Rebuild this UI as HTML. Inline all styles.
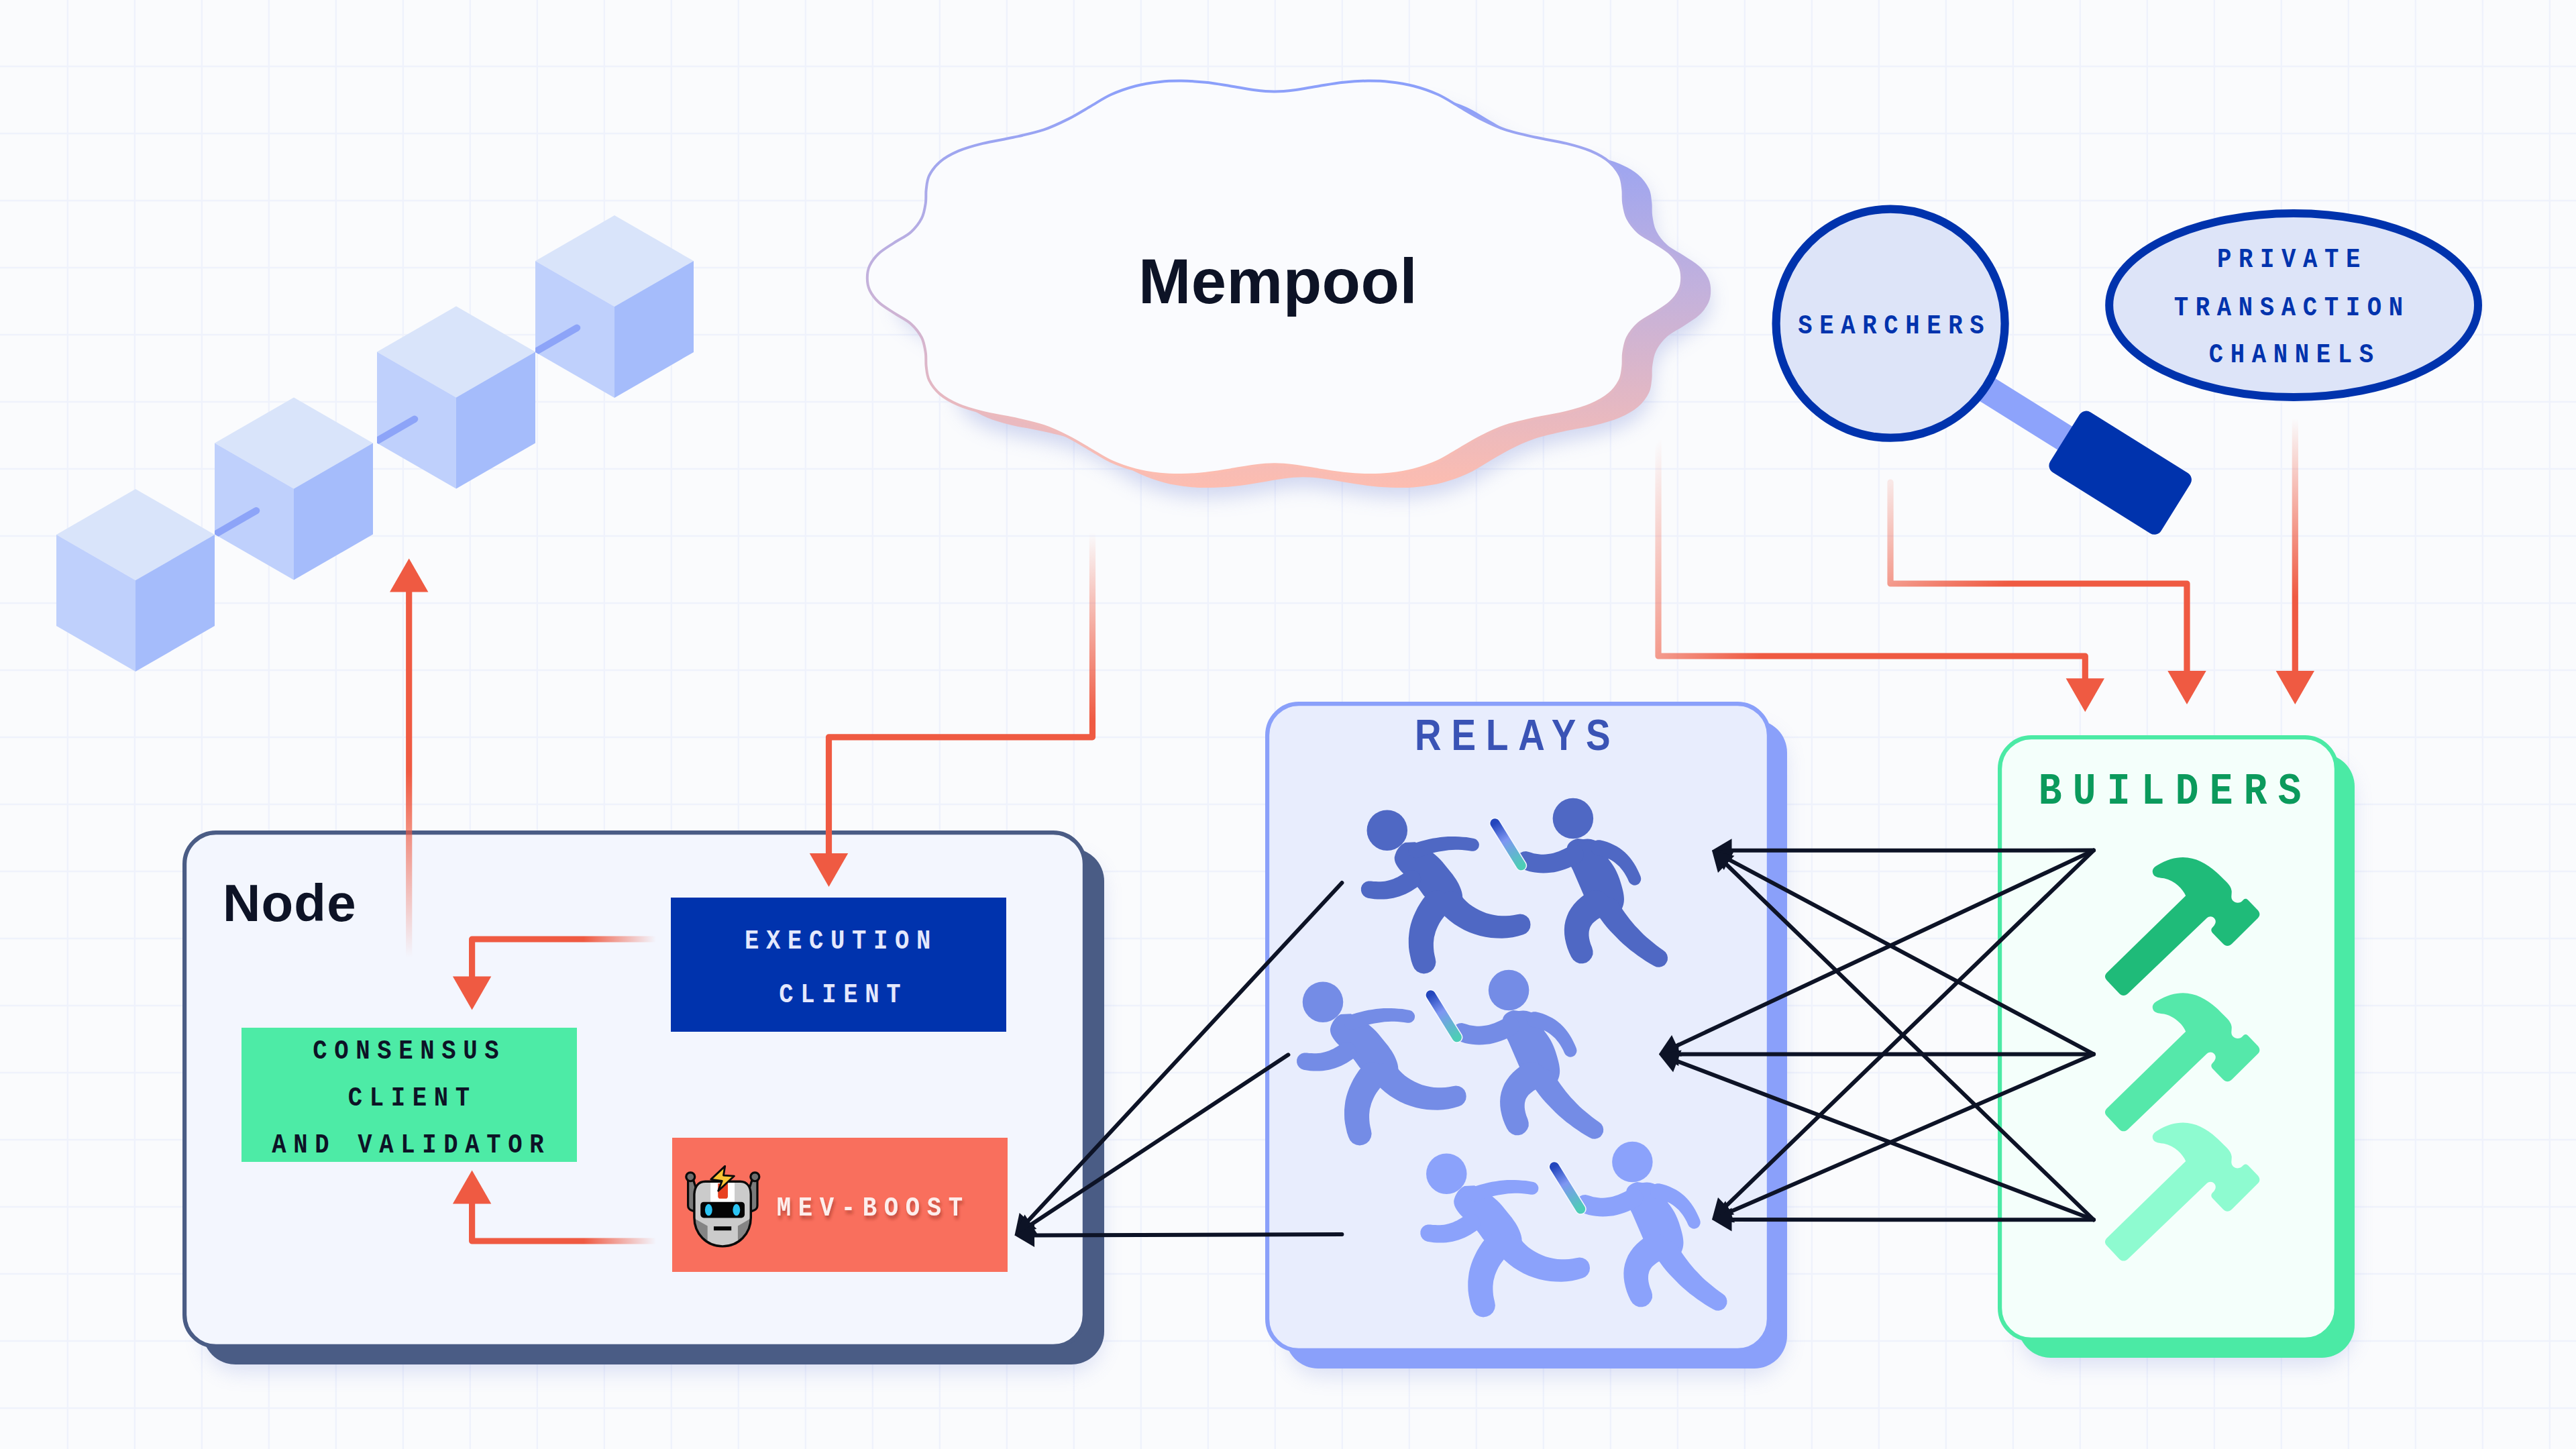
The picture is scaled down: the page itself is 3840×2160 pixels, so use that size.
<!DOCTYPE html>
<html lang="en"><head><meta charset="utf-8"><title>MEV-Boost architecture</title>
<style>
html,body{margin:0;padding:0;background:#fafbfd;width:3840px;height:2160px;overflow:hidden}
svg{display:block}
.mono{font-family:"Liberation Mono","DejaVu Sans Mono",monospace;font-weight:bold}
.sans{font-family:"Liberation Sans","DejaVu Sans",sans-serif;font-weight:bold}
</style></head><body>
<svg width="3840" height="2160" viewBox="0 0 3840 2160">
<defs>
<filter id="sh" x="-10%" y="-10%" width="125%" height="125%"><feGaussianBlur stdDeviation="16"/></filter>
<filter id="shc" x="-10%" y="-15%" width="125%" height="135%"><feGaussianBlur stdDeviation="14"/></filter>
<filter id="tsh" x="-5%" y="-30%" width="110%" height="180%"><feDropShadow dx="2.3" dy="5" stdDeviation="2.5" flood-color="#7a2418" flood-opacity="0.45"/></filter>
<linearGradient id="cg" x1="0" y1="0" x2="0" y2="1"><stop offset="0" stop-color="#8a9ffb"/><stop offset="0.5" stop-color="#c3b1dc"/><stop offset="1" stop-color="#fdbdb0"/></linearGradient>
</defs>
<rect width="3840" height="2160" fill="#fafbfd"/>
<path d="M100.8 0V2160M200.8 0V2160M300.8 0V2160M400.8 0V2160M500.8 0V2160M600.8 0V2160M700.8 0V2160M800.8 0V2160M900.8 0V2160M1000.8 0V2160M1100.8 0V2160M1200.8 0V2160M1300.8 0V2160M1400.8 0V2160M1500.8 0V2160M1600.8 0V2160M1700.8 0V2160M1800.8 0V2160M1900.8 0V2160M2000.8 0V2160M2100.8 0V2160M2200.8 0V2160M2300.8 0V2160M2400.8 0V2160M2500.8 0V2160M2600.8 0V2160M2700.8 0V2160M2800.8 0V2160M2900.8 0V2160M3000.8 0V2160M3100.8 0V2160M3200.8 0V2160M3300.8 0V2160M3400.8 0V2160M3500.8 0V2160M3600.8 0V2160M3700.8 0V2160M3800.8 0V2160M0 99H3840M0 199H3840M0 299H3840M0 399H3840M0 499H3840M0 599H3840M0 699H3840M0 799H3840M0 899H3840M0 999H3840M0 1099H3840M0 1199H3840M0 1299H3840M0 1399H3840M0 1499H3840M0 1599H3840M0 1699H3840M0 1799H3840M0 1899H3840M0 1999H3840M0 2099H3840" stroke="#eff2fc" stroke-width="2.4" fill="none"/>
<g id="chain">
<polygon points="202.0,729.0 320.0,797.0 202.0,865.0 84.0,797.0" fill="#d9e4fa"/><polygon points="84.0,797.0 202.0,865.0 202.0,1001.0 84.0,933.0" fill="#bfd0fc"/><polygon points="202.0,865.0 320.0,797.0 320.0,933.0 202.0,1001.0" fill="#a5bcfb"/><clipPath id="cf0"><polygon points="84.0,797.0 202.0,865.0 202.0,1001.0 84.0,933.0"/></clipPath>
<polygon points="438.0,592.5 556.0,660.5 438.0,728.5 320.0,660.5" fill="#d9e4fa"/><polygon points="320.0,660.5 438.0,728.5 438.0,864.5 320.0,796.5" fill="#bfd0fc"/><polygon points="438.0,728.5 556.0,660.5 556.0,796.5 438.0,864.5" fill="#a5bcfb"/><clipPath id="cf1"><polygon points="320.0,660.5 438.0,728.5 438.0,864.5 320.0,796.5"/></clipPath>
<polygon points="680.0,456.5 798.0,524.5 680.0,592.5 562.0,524.5" fill="#d9e4fa"/><polygon points="562.0,524.5 680.0,592.5 680.0,728.5 562.0,660.5" fill="#bfd0fc"/><polygon points="680.0,592.5 798.0,524.5 798.0,660.5 680.0,728.5" fill="#a5bcfb"/><clipPath id="cf2"><polygon points="562.0,524.5 680.0,592.5 680.0,728.5 562.0,660.5"/></clipPath>
<polygon points="916.0,321.0 1034.0,389.0 916.0,457.0 798.0,389.0" fill="#d9e4fa"/><polygon points="798.0,389.0 916.0,457.0 916.0,593.0 798.0,525.0" fill="#bfd0fc"/><polygon points="916.0,457.0 1034.0,389.0 1034.0,525.0 916.0,593.0" fill="#a5bcfb"/><clipPath id="cf3"><polygon points="798.0,389.0 916.0,457.0 916.0,593.0 798.0,525.0"/></clipPath>
<line clip-path="url(#cf1)" x1="314.0" y1="800.5" x2="382.0" y2="761.2" stroke="#8da4f8" stroke-width="10.5" stroke-linecap="round"/>
<line clip-path="url(#cf2)" x1="550.0" y1="664.0" x2="618.0" y2="624.7" stroke="#8da4f8" stroke-width="10.5" stroke-linecap="round"/>
<line clip-path="url(#cf3)" x1="792.0" y1="528.0" x2="860.0" y2="488.7" stroke="#8da4f8" stroke-width="10.5" stroke-linecap="round"/>
</g>
<g id="mempool">
<path d="M1292.8 414.3C1292.8 408.2 1293.5 402.1 1296.4 396.0C1299.3 389.9 1304.0 383.5 1310.1 377.8C1316.2 372.1 1324.9 367.2 1332.9 361.9C1340.9 356.6 1351.1 352.0 1357.9 345.9C1364.7 339.8 1370.2 332.6 1373.9 325.4C1377.6 318.2 1378.7 309.9 1379.8 302.7C1380.9 295.5 1379.8 289.0 1380.7 282.2C1381.6 275.4 1381.8 268.5 1385.2 261.7C1388.6 254.9 1394.0 247.3 1401.2 241.2C1408.4 235.1 1417.9 229.8 1428.5 225.2C1439.1 220.7 1451.2 217.3 1464.9 213.9C1478.6 210.5 1495.3 208.2 1510.5 204.8C1525.7 201.4 1542.3 198.0 1556.0 193.4C1569.7 188.8 1581.1 183.1 1592.5 177.4C1603.9 171.7 1613.8 165.3 1624.4 159.2C1635.0 153.1 1644.8 146.2 1656.2 141.0C1667.6 135.8 1680.6 131.4 1692.7 128.2C1704.8 125.0 1717.7 123.2 1729.1 121.9C1740.5 120.6 1749.6 120.4 1761.0 120.5C1772.4 120.6 1785.2 121.5 1797.4 122.8C1809.6 124.1 1821.8 126.3 1833.9 128.2C1846.1 130.1 1859.3 132.8 1870.3 134.2C1881.3 135.6 1890.1 136.4 1900.0 136.4C1909.9 136.4 1918.7 135.6 1929.7 134.2C1940.7 132.8 1953.9 130.1 1966.1 128.2C1978.2 126.3 1990.4 124.1 2002.6 122.8C2014.8 121.5 2027.6 120.6 2039.0 120.5C2050.4 120.4 2059.5 120.6 2070.9 121.9C2082.3 123.2 2095.2 125.0 2107.3 128.2C2119.5 131.4 2132.4 135.8 2143.8 141.0C2155.2 146.2 2165.0 153.1 2175.6 159.2C2186.2 165.3 2196.1 171.7 2207.5 177.4C2218.9 183.1 2230.3 188.8 2244.0 193.4C2257.7 198.0 2274.3 201.4 2289.5 204.8C2304.7 208.2 2321.4 210.5 2335.1 213.9C2348.8 217.3 2360.9 220.7 2371.5 225.2C2382.1 229.8 2391.6 235.1 2398.8 241.2C2406.0 247.3 2411.4 254.9 2414.8 261.7C2418.2 268.5 2418.4 275.4 2419.3 282.2C2420.2 289.0 2419.1 295.5 2420.2 302.7C2421.3 309.9 2422.4 318.2 2426.1 325.4C2429.8 332.6 2435.3 339.8 2442.1 345.9C2448.9 352.0 2459.1 356.6 2467.1 361.9C2475.1 367.2 2483.8 372.1 2489.9 377.8C2496.0 383.5 2500.7 389.9 2503.6 396.0C2506.5 402.1 2507.2 408.2 2507.2 414.3C2507.2 420.4 2506.5 426.5 2503.6 432.6C2500.7 438.7 2496.0 445.1 2489.9 450.8C2483.8 456.5 2475.1 461.4 2467.1 466.7C2459.1 472.0 2448.9 476.6 2442.1 482.7C2435.3 488.8 2429.8 496.0 2426.1 503.2C2422.4 510.4 2421.3 518.7 2420.2 525.9C2419.1 533.1 2420.2 539.6 2419.3 546.4C2418.4 553.2 2418.2 560.1 2414.8 566.9C2411.4 573.7 2406.0 581.3 2398.8 587.4C2391.6 593.5 2382.1 598.8 2371.5 603.4C2360.9 608.0 2348.8 611.3 2335.1 614.7C2321.4 618.1 2304.7 620.4 2289.5 623.8C2274.3 627.2 2257.7 630.6 2244.0 635.2C2230.3 639.8 2218.9 645.5 2207.5 651.2C2196.1 656.9 2186.2 663.3 2175.6 669.4C2165.0 675.5 2155.2 682.4 2143.8 687.6C2132.4 692.8 2119.5 697.2 2107.3 700.4C2095.2 703.6 2082.3 705.4 2070.9 706.7C2059.5 708.0 2050.4 708.2 2039.0 708.1C2027.6 708.0 2014.8 707.1 2002.6 705.8C1990.4 704.5 1978.2 702.3 1966.1 700.4C1953.9 698.5 1940.7 695.8 1929.7 694.4C1918.7 693.0 1909.9 692.2 1900.0 692.2C1890.1 692.2 1881.3 693.0 1870.3 694.4C1859.3 695.8 1846.1 698.5 1833.9 700.4C1821.8 702.3 1809.6 704.5 1797.4 705.8C1785.2 707.1 1772.4 708.0 1761.0 708.1C1749.6 708.2 1740.5 708.0 1729.1 706.7C1717.7 705.4 1704.8 703.6 1692.7 700.4C1680.6 697.2 1667.6 692.8 1656.2 687.6C1644.8 682.4 1635.0 675.5 1624.4 669.4C1613.8 663.3 1603.9 656.9 1592.5 651.2C1581.1 645.5 1569.7 639.8 1556.0 635.2C1542.3 630.6 1525.7 627.2 1510.5 623.8C1495.3 620.4 1478.6 618.1 1464.9 614.7C1451.2 611.3 1439.1 608.0 1428.5 603.4C1417.9 598.8 1408.4 593.5 1401.2 587.4C1394.0 581.3 1388.6 573.7 1385.2 566.9C1381.8 560.1 1381.6 553.2 1380.7 546.4C1379.8 539.6 1380.9 533.1 1379.8 525.9C1378.7 518.7 1377.6 510.4 1373.9 503.2C1370.2 496.0 1364.7 488.8 1357.9 482.7C1351.1 476.6 1340.9 472.0 1332.9 466.7C1324.9 461.4 1316.2 456.5 1310.1 450.8C1304.0 445.1 1299.3 438.7 1296.4 432.6C1293.5 426.5 1292.8 420.4 1292.8 414.3Z" transform="translate(43,34)" fill="#7f90d8" opacity="0.33" filter="url(#shc)"/>
<path d="M1292.8 414.3C1292.8 408.2 1293.5 402.1 1296.4 396.0C1299.3 389.9 1304.0 383.5 1310.1 377.8C1316.2 372.1 1324.9 367.2 1332.9 361.9C1340.9 356.6 1351.1 352.0 1357.9 345.9C1364.7 339.8 1370.2 332.6 1373.9 325.4C1377.6 318.2 1378.7 309.9 1379.8 302.7C1380.9 295.5 1379.8 289.0 1380.7 282.2C1381.6 275.4 1381.8 268.5 1385.2 261.7C1388.6 254.9 1394.0 247.3 1401.2 241.2C1408.4 235.1 1417.9 229.8 1428.5 225.2C1439.1 220.7 1451.2 217.3 1464.9 213.9C1478.6 210.5 1495.3 208.2 1510.5 204.8C1525.7 201.4 1542.3 198.0 1556.0 193.4C1569.7 188.8 1581.1 183.1 1592.5 177.4C1603.9 171.7 1613.8 165.3 1624.4 159.2C1635.0 153.1 1644.8 146.2 1656.2 141.0C1667.6 135.8 1680.6 131.4 1692.7 128.2C1704.8 125.0 1717.7 123.2 1729.1 121.9C1740.5 120.6 1749.6 120.4 1761.0 120.5C1772.4 120.6 1785.2 121.5 1797.4 122.8C1809.6 124.1 1821.8 126.3 1833.9 128.2C1846.1 130.1 1859.3 132.8 1870.3 134.2C1881.3 135.6 1890.1 136.4 1900.0 136.4C1909.9 136.4 1918.7 135.6 1929.7 134.2C1940.7 132.8 1953.9 130.1 1966.1 128.2C1978.2 126.3 1990.4 124.1 2002.6 122.8C2014.8 121.5 2027.6 120.6 2039.0 120.5C2050.4 120.4 2059.5 120.6 2070.9 121.9C2082.3 123.2 2095.2 125.0 2107.3 128.2C2119.5 131.4 2132.4 135.8 2143.8 141.0C2155.2 146.2 2165.0 153.1 2175.6 159.2C2186.2 165.3 2196.1 171.7 2207.5 177.4C2218.9 183.1 2230.3 188.8 2244.0 193.4C2257.7 198.0 2274.3 201.4 2289.5 204.8C2304.7 208.2 2321.4 210.5 2335.1 213.9C2348.8 217.3 2360.9 220.7 2371.5 225.2C2382.1 229.8 2391.6 235.1 2398.8 241.2C2406.0 247.3 2411.4 254.9 2414.8 261.7C2418.2 268.5 2418.4 275.4 2419.3 282.2C2420.2 289.0 2419.1 295.5 2420.2 302.7C2421.3 309.9 2422.4 318.2 2426.1 325.4C2429.8 332.6 2435.3 339.8 2442.1 345.9C2448.9 352.0 2459.1 356.6 2467.1 361.9C2475.1 367.2 2483.8 372.1 2489.9 377.8C2496.0 383.5 2500.7 389.9 2503.6 396.0C2506.5 402.1 2507.2 408.2 2507.2 414.3C2507.2 420.4 2506.5 426.5 2503.6 432.6C2500.7 438.7 2496.0 445.1 2489.9 450.8C2483.8 456.5 2475.1 461.4 2467.1 466.7C2459.1 472.0 2448.9 476.6 2442.1 482.7C2435.3 488.8 2429.8 496.0 2426.1 503.2C2422.4 510.4 2421.3 518.7 2420.2 525.9C2419.1 533.1 2420.2 539.6 2419.3 546.4C2418.4 553.2 2418.2 560.1 2414.8 566.9C2411.4 573.7 2406.0 581.3 2398.8 587.4C2391.6 593.5 2382.1 598.8 2371.5 603.4C2360.9 608.0 2348.8 611.3 2335.1 614.7C2321.4 618.1 2304.7 620.4 2289.5 623.8C2274.3 627.2 2257.7 630.6 2244.0 635.2C2230.3 639.8 2218.9 645.5 2207.5 651.2C2196.1 656.9 2186.2 663.3 2175.6 669.4C2165.0 675.5 2155.2 682.4 2143.8 687.6C2132.4 692.8 2119.5 697.2 2107.3 700.4C2095.2 703.6 2082.3 705.4 2070.9 706.7C2059.5 708.0 2050.4 708.2 2039.0 708.1C2027.6 708.0 2014.8 707.1 2002.6 705.8C1990.4 704.5 1978.2 702.3 1966.1 700.4C1953.9 698.5 1940.7 695.8 1929.7 694.4C1918.7 693.0 1909.9 692.2 1900.0 692.2C1890.1 692.2 1881.3 693.0 1870.3 694.4C1859.3 695.8 1846.1 698.5 1833.9 700.4C1821.8 702.3 1809.6 704.5 1797.4 705.8C1785.2 707.1 1772.4 708.0 1761.0 708.1C1749.6 708.2 1740.5 708.0 1729.1 706.7C1717.7 705.4 1704.8 703.6 1692.7 700.4C1680.6 697.2 1667.6 692.8 1656.2 687.6C1644.8 682.4 1635.0 675.5 1624.4 669.4C1613.8 663.3 1603.9 656.9 1592.5 651.2C1581.1 645.5 1569.7 639.8 1556.0 635.2C1542.3 630.6 1525.7 627.2 1510.5 623.8C1495.3 620.4 1478.6 618.1 1464.9 614.7C1451.2 611.3 1439.1 608.0 1428.5 603.4C1417.9 598.8 1408.4 593.5 1401.2 587.4C1394.0 581.3 1388.6 573.7 1385.2 566.9C1381.8 560.1 1381.6 553.2 1380.7 546.4C1379.8 539.6 1380.9 533.1 1379.8 525.9C1378.7 518.7 1377.6 510.4 1373.9 503.2C1370.2 496.0 1364.7 488.8 1357.9 482.7C1351.1 476.6 1340.9 472.0 1332.9 466.7C1324.9 461.4 1316.2 456.5 1310.1 450.8C1304.0 445.1 1299.3 438.7 1296.4 432.6C1293.5 426.5 1292.8 420.4 1292.8 414.3Z" transform="translate(43,19)" fill="url(#cg)"/>
<path d="M1292.8 414.3C1292.8 408.2 1293.5 402.1 1296.4 396.0C1299.3 389.9 1304.0 383.5 1310.1 377.8C1316.2 372.1 1324.9 367.2 1332.9 361.9C1340.9 356.6 1351.1 352.0 1357.9 345.9C1364.7 339.8 1370.2 332.6 1373.9 325.4C1377.6 318.2 1378.7 309.9 1379.8 302.7C1380.9 295.5 1379.8 289.0 1380.7 282.2C1381.6 275.4 1381.8 268.5 1385.2 261.7C1388.6 254.9 1394.0 247.3 1401.2 241.2C1408.4 235.1 1417.9 229.8 1428.5 225.2C1439.1 220.7 1451.2 217.3 1464.9 213.9C1478.6 210.5 1495.3 208.2 1510.5 204.8C1525.7 201.4 1542.3 198.0 1556.0 193.4C1569.7 188.8 1581.1 183.1 1592.5 177.4C1603.9 171.7 1613.8 165.3 1624.4 159.2C1635.0 153.1 1644.8 146.2 1656.2 141.0C1667.6 135.8 1680.6 131.4 1692.7 128.2C1704.8 125.0 1717.7 123.2 1729.1 121.9C1740.5 120.6 1749.6 120.4 1761.0 120.5C1772.4 120.6 1785.2 121.5 1797.4 122.8C1809.6 124.1 1821.8 126.3 1833.9 128.2C1846.1 130.1 1859.3 132.8 1870.3 134.2C1881.3 135.6 1890.1 136.4 1900.0 136.4C1909.9 136.4 1918.7 135.6 1929.7 134.2C1940.7 132.8 1953.9 130.1 1966.1 128.2C1978.2 126.3 1990.4 124.1 2002.6 122.8C2014.8 121.5 2027.6 120.6 2039.0 120.5C2050.4 120.4 2059.5 120.6 2070.9 121.9C2082.3 123.2 2095.2 125.0 2107.3 128.2C2119.5 131.4 2132.4 135.8 2143.8 141.0C2155.2 146.2 2165.0 153.1 2175.6 159.2C2186.2 165.3 2196.1 171.7 2207.5 177.4C2218.9 183.1 2230.3 188.8 2244.0 193.4C2257.7 198.0 2274.3 201.4 2289.5 204.8C2304.7 208.2 2321.4 210.5 2335.1 213.9C2348.8 217.3 2360.9 220.7 2371.5 225.2C2382.1 229.8 2391.6 235.1 2398.8 241.2C2406.0 247.3 2411.4 254.9 2414.8 261.7C2418.2 268.5 2418.4 275.4 2419.3 282.2C2420.2 289.0 2419.1 295.5 2420.2 302.7C2421.3 309.9 2422.4 318.2 2426.1 325.4C2429.8 332.6 2435.3 339.8 2442.1 345.9C2448.9 352.0 2459.1 356.6 2467.1 361.9C2475.1 367.2 2483.8 372.1 2489.9 377.8C2496.0 383.5 2500.7 389.9 2503.6 396.0C2506.5 402.1 2507.2 408.2 2507.2 414.3C2507.2 420.4 2506.5 426.5 2503.6 432.6C2500.7 438.7 2496.0 445.1 2489.9 450.8C2483.8 456.5 2475.1 461.4 2467.1 466.7C2459.1 472.0 2448.9 476.6 2442.1 482.7C2435.3 488.8 2429.8 496.0 2426.1 503.2C2422.4 510.4 2421.3 518.7 2420.2 525.9C2419.1 533.1 2420.2 539.6 2419.3 546.4C2418.4 553.2 2418.2 560.1 2414.8 566.9C2411.4 573.7 2406.0 581.3 2398.8 587.4C2391.6 593.5 2382.1 598.8 2371.5 603.4C2360.9 608.0 2348.8 611.3 2335.1 614.7C2321.4 618.1 2304.7 620.4 2289.5 623.8C2274.3 627.2 2257.7 630.6 2244.0 635.2C2230.3 639.8 2218.9 645.5 2207.5 651.2C2196.1 656.9 2186.2 663.3 2175.6 669.4C2165.0 675.5 2155.2 682.4 2143.8 687.6C2132.4 692.8 2119.5 697.2 2107.3 700.4C2095.2 703.6 2082.3 705.4 2070.9 706.7C2059.5 708.0 2050.4 708.2 2039.0 708.1C2027.6 708.0 2014.8 707.1 2002.6 705.8C1990.4 704.5 1978.2 702.3 1966.1 700.4C1953.9 698.5 1940.7 695.8 1929.7 694.4C1918.7 693.0 1909.9 692.2 1900.0 692.2C1890.1 692.2 1881.3 693.0 1870.3 694.4C1859.3 695.8 1846.1 698.5 1833.9 700.4C1821.8 702.3 1809.6 704.5 1797.4 705.8C1785.2 707.1 1772.4 708.0 1761.0 708.1C1749.6 708.2 1740.5 708.0 1729.1 706.7C1717.7 705.4 1704.8 703.6 1692.7 700.4C1680.6 697.2 1667.6 692.8 1656.2 687.6C1644.8 682.4 1635.0 675.5 1624.4 669.4C1613.8 663.3 1603.9 656.9 1592.5 651.2C1581.1 645.5 1569.7 639.8 1556.0 635.2C1542.3 630.6 1525.7 627.2 1510.5 623.8C1495.3 620.4 1478.6 618.1 1464.9 614.7C1451.2 611.3 1439.1 608.0 1428.5 603.4C1417.9 598.8 1408.4 593.5 1401.2 587.4C1394.0 581.3 1388.6 573.7 1385.2 566.9C1381.8 560.1 1381.6 553.2 1380.7 546.4C1379.8 539.6 1380.9 533.1 1379.8 525.9C1378.7 518.7 1377.6 510.4 1373.9 503.2C1370.2 496.0 1364.7 488.8 1357.9 482.7C1351.1 476.6 1340.9 472.0 1332.9 466.7C1324.9 461.4 1316.2 456.5 1310.1 450.8C1304.0 445.1 1299.3 438.7 1296.4 432.6C1293.5 426.5 1292.8 420.4 1292.8 414.3Z" fill="#fafbfe" stroke="url(#cg)" stroke-width="4"/>
<text class="sans" x="1697" y="452" font-size="94" letter-spacing="0.5" fill="#0d1326">Mempool</text>
</g>
<g id="searchers">
<g transform="translate(3160.7,704.7) rotate(32)">
<rect x="-270" y="-20.5" width="200" height="41" fill="#8da3fb"/>
<rect x="-97.5" y="-53" width="195" height="106" rx="12" fill="#0033ad"/>
</g>
<circle cx="2818.1" cy="482.2" r="170.5" fill="#dde4f8" stroke="#0033ad" stroke-width="12.2"/>
<text class="mono" transform="translate(2680.24,497.30) scale(0.860,1)" font-size="41.4" letter-spacing="12.37" fill="#0033ad">SEARCHERS</text>
</g>
<g id="private">
<ellipse cx="3419.1" cy="455" rx="274.9" ry="136.9" fill="#dde4f8" stroke="#0033ad" stroke-width="12"/>
<text class="mono" transform="translate(3305.04,398.30) scale(0.860,1)" font-size="41.4" letter-spacing="12.37" fill="#0033ad">PRIVATE</text>
<text class="mono" transform="translate(3240.74,470.00) scale(0.860,1)" font-size="41.4" letter-spacing="12.37" fill="#0033ad">TRANSACTION</text>
<text class="mono" transform="translate(3292.74,540.00) scale(0.860,1)" font-size="41.4" letter-spacing="12.37" fill="#0033ad">CHANNELS</text>
</g>
<g id="node">
<rect x="306.0" y="1278.5" width="1336.0" height="765.5" rx="50" fill="#6f82d6" opacity="0.24" filter="url(#sh)"/><rect x="302.0" y="1264.5" width="1344.0" height="769.5" rx="49" fill="#4a5c85"/><rect x="275.1" y="1241.1" width="1341.8" height="765.8" rx="46.9" fill="#f3f6fe" stroke="#4a5c85" stroke-width="6.2"/>
<text class="sans" x="332" y="1373" font-size="78" letter-spacing="1.2" fill="#0d1326">Node</text>
</g>
<g id="relays">
<rect x="1920.0" y="1087.0" width="740.0" height="963.0" rx="50" fill="#6f82d6" opacity="0.24" filter="url(#sh)"/><rect x="1916.0" y="1073.0" width="748.0" height="967.0" rx="49" fill="#8aa0fa"/><rect x="1889.1" y="1049.1" width="747.8" height="963.8" rx="46.9" fill="#e8edfd" stroke="#8aa0fa" stroke-width="6.2"/>
<text class="sans" transform="translate(2109,1117.6) scale(0.85,1)" font-size="64.5" letter-spacing="17.5" fill="#3a53b5">RELAYS</text>
</g>
<g id="builders">
<rect x="3012.0" y="1137.5" width="494.0" height="896.5" rx="50" fill="#6f82d6" opacity="0.24" filter="url(#sh)"/><rect x="3008.0" y="1123.5" width="502.0" height="900.5" rx="49" fill="#4beaa5"/><rect x="2981.1" y="1099.1" width="501.8" height="897.8" rx="46.9" fill="#f4fffb" stroke="#4beaa5" stroke-width="6.2"/>
<text class="mono" transform="translate(3038.83,1198.00) scale(0.860,1)" font-size="67.4" letter-spacing="18.86" fill="#0b9a5c">BUILDERS</text>
</g>
<g id="redarrows">
<linearGradient id="rg1" gradientUnits="userSpaceOnUse" x1="609.7" y1="1427.0" x2="609.7" y2="1150.0"><stop offset="0" stop-color="#ef5a42" stop-opacity="0.00"/><stop offset="1" stop-color="#ef5a42" stop-opacity="1"/></linearGradient>
<path d="M609.7 1427V870" fill="none" stroke="url(#rg1)" stroke-width="9.2" stroke-linejoin="round" stroke-linecap="butt"/>
<polygon points="581.0,882.4 638.4,882.4 609.7,832.4" fill="#ef5a42"/>
<linearGradient id="rg2" gradientUnits="userSpaceOnUse" x1="1628.5" y1="794.0" x2="1628.6" y2="1075.0"><stop offset="0" stop-color="#ef5a42" stop-opacity="0.00"/><stop offset="1" stop-color="#ef5a42" stop-opacity="1"/></linearGradient>
<path d="M1628.5 794V1098.8H1235.5V1280" fill="none" stroke="url(#rg2)" stroke-width="9.2" stroke-linejoin="round" stroke-linecap="butt"/>
<polygon points="1206.8,1272.0 1264.2,1272.0 1235.5,1322.0" fill="#ef5a42"/>
<linearGradient id="rg3" gradientUnits="userSpaceOnUse" x1="2472.0" y1="656.0" x2="2725.7" y2="836.8"><stop offset="0" stop-color="#ef5a42" stop-opacity="0.00"/><stop offset="1" stop-color="#ef5a42" stop-opacity="1"/></linearGradient>
<path d="M2472 656V978H3108.3V1020" fill="none" stroke="url(#rg3)" stroke-width="9.2" stroke-linejoin="round" stroke-linecap="butt"/>
<polygon points="3079.6,1011.3 3137.0,1011.3 3108.3,1061.3" fill="#ef5a42"/>
<linearGradient id="rg4" gradientUnits="userSpaceOnUse" x1="2818.0" y1="719.0" x2="2950.0" y2="900.0"><stop offset="0" stop-color="#ef5a42" stop-opacity="0.12"/><stop offset="1" stop-color="#ef5a42" stop-opacity="1"/></linearGradient>
<path d="M2818 719V870H3260V1005" fill="none" stroke="url(#rg4)" stroke-width="9.2" stroke-linejoin="round" stroke-linecap="round"/>
<polygon points="3231.3,1000.0 3288.7,1000.0 3260.0,1050.0" fill="#ef5a42"/>
<linearGradient id="rg5" gradientUnits="userSpaceOnUse" x1="3421.3" y1="624.0" x2="3421.4" y2="890.0"><stop offset="0" stop-color="#ef5a42" stop-opacity="0.00"/><stop offset="1" stop-color="#ef5a42" stop-opacity="1"/></linearGradient>
<path d="M3421.3 624V1005" fill="none" stroke="url(#rg5)" stroke-width="9.2" stroke-linejoin="round" stroke-linecap="butt"/>
<polygon points="3392.6,1000.0 3450.0,1000.0 3421.3,1050.0" fill="#ef5a42"/>
<linearGradient id="rg6" gradientUnits="userSpaceOnUse" x1="978.0" y1="1400.0" x2="870.0" y2="1400.1"><stop offset="0" stop-color="#ef5a42" stop-opacity="0.00"/><stop offset="1" stop-color="#ef5a42" stop-opacity="1"/></linearGradient>
<path d="M978 1400H703.6V1460" fill="none" stroke="url(#rg6)" stroke-width="9.2" stroke-linejoin="round" stroke-linecap="butt"/>
<polygon points="674.9,1455.6 732.3,1455.6 703.6,1505.6" fill="#ef5a42"/>
<linearGradient id="rg7" gradientUnits="userSpaceOnUse" x1="978.0" y1="1850.0" x2="870.0" y2="1850.1"><stop offset="0" stop-color="#ef5a42" stop-opacity="0.00"/><stop offset="1" stop-color="#ef5a42" stop-opacity="1"/></linearGradient>
<path d="M978 1850H703.6V1790" fill="none" stroke="url(#rg7)" stroke-width="9.2" stroke-linejoin="round" stroke-linecap="butt"/>
<polygon points="674.9,1794.4 732.3,1794.4 703.6,1744.4" fill="#ef5a42"/>
</g>
<g id="inner">
<rect x="1000" y="1338" width="500" height="200" fill="#0033ad"/>
<text class="mono" transform="translate(1110.04,1413.80) scale(0.860,1)" font-size="41.4" letter-spacing="12.37" fill="#e4e8fc">EXECUTION</text>
<text class="mono" transform="translate(1161.24,1493.90) scale(0.860,1)" font-size="41.4" letter-spacing="12.37" fill="#e4e8fc">CLIENT</text>
<rect x="360" y="1532" width="500" height="200" fill="#4deba6"/>
<text class="mono" transform="translate(466.24,1577.50) scale(0.860,1)" font-size="41.4" letter-spacing="12.37" fill="#0d1326">CONSENSUS</text>
<text class="mono" transform="translate(518.74,1648.00) scale(0.860,1)" font-size="41.4" letter-spacing="12.37" fill="#0d1326">CLIENT</text>
<text class="mono" transform="translate(405.24,1718.20) scale(0.860,1)" font-size="41.4" letter-spacing="12.37" fill="#0d1326">AND VALIDATOR</text>
<rect x="1002" y="1696" width="500" height="200" fill="#f96f5d"/>
<text class="mono" transform="translate(1157.74,1811.60) scale(0.860,1)" font-size="41.4" letter-spacing="12.37" fill="#fdeeec" filter="url(#tsh)">MEV-BOOST</text>
</g>
<linearGradient id="bat" gradientUnits="userSpaceOnUse" x1="1035" y1="305" x2="1212" y2="590"><stop offset="0" stop-color="#2346bd"/><stop offset="0.4" stop-color="#7e96f2"/><stop offset="1" stop-color="#4dcdb6"/></linearGradient>
<g id="runners">
<g transform="translate(2000.0,1160.0) scale(0.22080)" fill="#4f68c4" stroke="none"><circle cx="307" cy="352" r="137"/><circle cx="1562" cy="272" r="137"/><path d="M470 545L690 770" fill="none" stroke="#4f68c4" stroke-width="205" stroke-linecap="round"/><path d="M1660 535L1770 790" fill="none" stroke="#4f68c4" stroke-width="250" stroke-linecap="round"/><path d="M428 435C395 450 365 490 357 532C352 570 385 615 420 646L513 735L555 794L681 912L812 836C822 800 812 765 799 735C785 700 770 680 749 650C725 620 705 595 681 566C660 540 635 520 610 499L496 431ZM1595 408C1550 415 1515 450 1522 480L1549 598L1654 770L1726 925L1889 888C1916 834 1912 790 1876 680C1850 607 1821 571 1794 539L1722 426Z"/><path d="M518 537L541 528L564 520L587 513L610 506L633 501L656 496L679 492L701 489L723 486L746 485L768 484L790 484L812 485L834 487L855 489L877 492L890 493L903 489L914 481L923 471L927 458L928 445L924 432L916 421L906 412L893 408L868 403L843 399L818 397L793 395L768 394L743 394L717 394L691 396L666 399L640 403L614 407L588 412L562 419L535 426L509 434L482 443L469 451L458 462L452 477L450 492L453 508L461 521L472 532L487 538L502 540ZM177 809L199 813L221 816L242 817L264 818L285 818L306 816L328 813L349 809L370 804L390 798L411 790L431 782L451 772L470 762L489 750L508 737L523 723L532 705L535 685L532 665L522 647L508 632L490 623L470 620L450 623L432 633L418 643L404 652L390 660L377 668L363 674L349 680L335 685L320 689L306 693L291 696L277 697L262 699L246 699L231 698L215 697L199 695L180 695L163 700L148 710L137 724L131 741L131 760L136 777L146 792L160 803ZM672 906L699 935L729 961L760 985L793 1006L827 1025L862 1040L897 1053L934 1064L971 1072L1008 1078L1045 1080L1082 1081L1118 1079L1155 1074L1190 1067L1225 1056L1245 1047L1261 1031L1272 1011L1275 989L1272 967L1263 947L1247 931L1227 920L1205 917L1183 920L1159 925L1134 928L1108 930L1082 930L1056 928L1029 924L1003 918L977 911L952 901L927 890L904 878L882 864L861 849L842 832L824 814L808 794L788 776L763 765L735 762L708 768L684 782L666 802L655 827L652 855L658 882ZM569 790L548 817L530 845L513 873L499 901L486 930L475 959L466 989L459 1019L455 1050L452 1080L452 1111L453 1142L457 1173L463 1203L470 1234L480 1264L491 1286L508 1304L531 1316L555 1320L580 1316L602 1305L620 1288L632 1265L636 1241L632 1216L627 1194L623 1173L621 1152L620 1132L620 1112L622 1093L624 1074L629 1056L634 1037L641 1019L649 1001L658 983L669 965L682 946L696 928L711 910L726 885L733 856L730 827L719 800L700 779L675 764L646 757L617 760L590 771ZM1220 614L1243 622L1267 629L1290 634L1314 638L1338 640L1362 641L1387 640L1411 638L1435 635L1459 630L1483 623L1508 615L1532 606L1555 596L1579 584L1603 571L1619 558L1630 541L1635 521L1633 501L1626 482L1613 466L1596 455L1576 450L1556 452L1537 459L1518 470L1500 479L1482 487L1464 495L1446 501L1429 506L1412 509L1395 512L1378 514L1362 515L1346 515L1329 513L1313 511L1297 508L1280 503L1264 498L1245 494L1225 496L1208 504L1193 517L1184 534L1180 553L1182 573L1190 590L1203 605ZM1726 522L1744 525L1761 529L1777 534L1793 540L1808 547L1822 555L1836 564L1849 574L1862 585L1875 597L1886 610L1898 625L1909 641L1919 658L1929 676L1938 696L1945 708L1955 716L1968 722L1981 723L1994 720L2006 713L2014 703L2020 690L2021 677L2018 664L2008 640L1997 617L1986 595L1973 574L1959 554L1945 535L1929 518L1912 501L1894 486L1876 472L1856 460L1835 449L1814 439L1791 430L1768 423L1744 418L1728 418L1712 422L1698 432L1688 445L1683 461L1683 477L1687 493L1697 507L1710 517ZM1668 767L1640 786L1614 806L1590 828L1568 851L1549 877L1533 904L1521 932L1511 962L1505 993L1503 1023L1504 1054L1508 1085L1515 1116L1524 1147L1536 1177L1550 1207L1564 1227L1583 1242L1605 1251L1629 1251L1652 1245L1672 1231L1687 1212L1696 1190L1696 1166L1690 1143L1681 1120L1675 1099L1671 1080L1669 1063L1669 1047L1670 1034L1673 1021L1676 1010L1681 1000L1687 991L1694 981L1704 972L1715 962L1728 952L1743 943L1762 933L1785 914L1801 890L1809 861L1808 831L1798 803L1779 780L1755 764L1726 756L1696 757ZM1732 929L1751 955L1770 980L1790 1005L1811 1029L1833 1052L1855 1075L1877 1097L1900 1119L1924 1139L1949 1160L1974 1179L1999 1198L2026 1216L2052 1234L2080 1251L2108 1267L2125 1275L2145 1276L2163 1272L2180 1262L2192 1247L2200 1230L2201 1210L2197 1192L2187 1175L2172 1163L2148 1146L2125 1129L2103 1111L2081 1093L2059 1075L2039 1056L2019 1036L2000 1016L1981 996L1963 975L1946 954L1929 932L1913 910L1897 888L1882 864L1868 841L1851 822L1829 809L1804 804L1779 807L1756 817L1737 834L1724 856L1719 881L1722 906Z"/><path d="M1035 305L1212 590" fill="none" stroke="#f4f7ff" stroke-width="78" stroke-linecap="round"/><path d="M1035 305L1212 590" fill="none" stroke="url(#bat)" stroke-width="64" stroke-linecap="round"/></g>
<g transform="translate(1904.2,1416.0) scale(0.22080)" fill="#748ce6" stroke="none"><circle cx="307" cy="352" r="137"/><circle cx="1562" cy="272" r="137"/><path d="M470 545L690 770" fill="none" stroke="#748ce6" stroke-width="205" stroke-linecap="round"/><path d="M1660 535L1770 790" fill="none" stroke="#748ce6" stroke-width="250" stroke-linecap="round"/><path d="M428 435C395 450 365 490 357 532C352 570 385 615 420 646L513 735L555 794L681 912L812 836C822 800 812 765 799 735C785 700 770 680 749 650C725 620 705 595 681 566C660 540 635 520 610 499L496 431ZM1595 408C1550 415 1515 450 1522 480L1549 598L1654 770L1726 925L1889 888C1916 834 1912 790 1876 680C1850 607 1821 571 1794 539L1722 426Z"/><path d="M518 537L541 528L564 520L587 513L610 506L633 501L656 496L679 492L701 489L723 486L746 485L768 484L790 484L812 485L834 487L855 489L877 492L890 493L903 489L914 481L923 471L927 458L928 445L924 432L916 421L906 412L893 408L868 403L843 399L818 397L793 395L768 394L743 394L717 394L691 396L666 399L640 403L614 407L588 412L562 419L535 426L509 434L482 443L469 451L458 462L452 477L450 492L453 508L461 521L472 532L487 538L502 540ZM177 809L199 813L221 816L242 817L264 818L285 818L306 816L328 813L349 809L370 804L390 798L411 790L431 782L451 772L470 762L489 750L508 737L523 723L532 705L535 685L532 665L522 647L508 632L490 623L470 620L450 623L432 633L418 643L404 652L390 660L377 668L363 674L349 680L335 685L320 689L306 693L291 696L277 697L262 699L246 699L231 698L215 697L199 695L180 695L163 700L148 710L137 724L131 741L131 760L136 777L146 792L160 803ZM672 906L699 935L729 961L760 985L793 1006L827 1025L862 1040L897 1053L934 1064L971 1072L1008 1078L1045 1080L1082 1081L1118 1079L1155 1074L1190 1067L1225 1056L1245 1047L1261 1031L1272 1011L1275 989L1272 967L1263 947L1247 931L1227 920L1205 917L1183 920L1159 925L1134 928L1108 930L1082 930L1056 928L1029 924L1003 918L977 911L952 901L927 890L904 878L882 864L861 849L842 832L824 814L808 794L788 776L763 765L735 762L708 768L684 782L666 802L655 827L652 855L658 882ZM569 790L548 817L530 845L513 873L499 901L486 930L475 959L466 989L459 1019L455 1050L452 1080L452 1111L453 1142L457 1173L463 1203L470 1234L480 1264L491 1286L508 1304L531 1316L555 1320L580 1316L602 1305L620 1288L632 1265L636 1241L632 1216L627 1194L623 1173L621 1152L620 1132L620 1112L622 1093L624 1074L629 1056L634 1037L641 1019L649 1001L658 983L669 965L682 946L696 928L711 910L726 885L733 856L730 827L719 800L700 779L675 764L646 757L617 760L590 771ZM1220 614L1243 622L1267 629L1290 634L1314 638L1338 640L1362 641L1387 640L1411 638L1435 635L1459 630L1483 623L1508 615L1532 606L1555 596L1579 584L1603 571L1619 558L1630 541L1635 521L1633 501L1626 482L1613 466L1596 455L1576 450L1556 452L1537 459L1518 470L1500 479L1482 487L1464 495L1446 501L1429 506L1412 509L1395 512L1378 514L1362 515L1346 515L1329 513L1313 511L1297 508L1280 503L1264 498L1245 494L1225 496L1208 504L1193 517L1184 534L1180 553L1182 573L1190 590L1203 605ZM1726 522L1744 525L1761 529L1777 534L1793 540L1808 547L1822 555L1836 564L1849 574L1862 585L1875 597L1886 610L1898 625L1909 641L1919 658L1929 676L1938 696L1945 708L1955 716L1968 722L1981 723L1994 720L2006 713L2014 703L2020 690L2021 677L2018 664L2008 640L1997 617L1986 595L1973 574L1959 554L1945 535L1929 518L1912 501L1894 486L1876 472L1856 460L1835 449L1814 439L1791 430L1768 423L1744 418L1728 418L1712 422L1698 432L1688 445L1683 461L1683 477L1687 493L1697 507L1710 517ZM1668 767L1640 786L1614 806L1590 828L1568 851L1549 877L1533 904L1521 932L1511 962L1505 993L1503 1023L1504 1054L1508 1085L1515 1116L1524 1147L1536 1177L1550 1207L1564 1227L1583 1242L1605 1251L1629 1251L1652 1245L1672 1231L1687 1212L1696 1190L1696 1166L1690 1143L1681 1120L1675 1099L1671 1080L1669 1063L1669 1047L1670 1034L1673 1021L1676 1010L1681 1000L1687 991L1694 981L1704 972L1715 962L1728 952L1743 943L1762 933L1785 914L1801 890L1809 861L1808 831L1798 803L1779 780L1755 764L1726 756L1696 757ZM1732 929L1751 955L1770 980L1790 1005L1811 1029L1833 1052L1855 1075L1877 1097L1900 1119L1924 1139L1949 1160L1974 1179L1999 1198L2026 1216L2052 1234L2080 1251L2108 1267L2125 1275L2145 1276L2163 1272L2180 1262L2192 1247L2200 1230L2201 1210L2197 1192L2187 1175L2172 1163L2148 1146L2125 1129L2103 1111L2081 1093L2059 1075L2039 1056L2019 1036L2000 1016L1981 996L1963 975L1946 954L1929 932L1913 910L1897 888L1882 864L1868 841L1851 822L1829 809L1804 804L1779 807L1756 817L1737 834L1724 856L1719 881L1722 906Z"/><path d="M1035 305L1212 590" fill="none" stroke="#f4f7ff" stroke-width="78" stroke-linecap="round"/><path d="M1035 305L1212 590" fill="none" stroke="url(#bat)" stroke-width="64" stroke-linecap="round"/></g>
<g transform="translate(2088.5,1672.0) scale(0.22080)" fill="#8ba2fb" stroke="none"><circle cx="307" cy="352" r="137"/><circle cx="1562" cy="272" r="137"/><path d="M470 545L690 770" fill="none" stroke="#8ba2fb" stroke-width="205" stroke-linecap="round"/><path d="M1660 535L1770 790" fill="none" stroke="#8ba2fb" stroke-width="250" stroke-linecap="round"/><path d="M428 435C395 450 365 490 357 532C352 570 385 615 420 646L513 735L555 794L681 912L812 836C822 800 812 765 799 735C785 700 770 680 749 650C725 620 705 595 681 566C660 540 635 520 610 499L496 431ZM1595 408C1550 415 1515 450 1522 480L1549 598L1654 770L1726 925L1889 888C1916 834 1912 790 1876 680C1850 607 1821 571 1794 539L1722 426Z"/><path d="M518 537L541 528L564 520L587 513L610 506L633 501L656 496L679 492L701 489L723 486L746 485L768 484L790 484L812 485L834 487L855 489L877 492L890 493L903 489L914 481L923 471L927 458L928 445L924 432L916 421L906 412L893 408L868 403L843 399L818 397L793 395L768 394L743 394L717 394L691 396L666 399L640 403L614 407L588 412L562 419L535 426L509 434L482 443L469 451L458 462L452 477L450 492L453 508L461 521L472 532L487 538L502 540ZM177 809L199 813L221 816L242 817L264 818L285 818L306 816L328 813L349 809L370 804L390 798L411 790L431 782L451 772L470 762L489 750L508 737L523 723L532 705L535 685L532 665L522 647L508 632L490 623L470 620L450 623L432 633L418 643L404 652L390 660L377 668L363 674L349 680L335 685L320 689L306 693L291 696L277 697L262 699L246 699L231 698L215 697L199 695L180 695L163 700L148 710L137 724L131 741L131 760L136 777L146 792L160 803ZM672 906L699 935L729 961L760 985L793 1006L827 1025L862 1040L897 1053L934 1064L971 1072L1008 1078L1045 1080L1082 1081L1118 1079L1155 1074L1190 1067L1225 1056L1245 1047L1261 1031L1272 1011L1275 989L1272 967L1263 947L1247 931L1227 920L1205 917L1183 920L1159 925L1134 928L1108 930L1082 930L1056 928L1029 924L1003 918L977 911L952 901L927 890L904 878L882 864L861 849L842 832L824 814L808 794L788 776L763 765L735 762L708 768L684 782L666 802L655 827L652 855L658 882ZM569 790L548 817L530 845L513 873L499 901L486 930L475 959L466 989L459 1019L455 1050L452 1080L452 1111L453 1142L457 1173L463 1203L470 1234L480 1264L491 1286L508 1304L531 1316L555 1320L580 1316L602 1305L620 1288L632 1265L636 1241L632 1216L627 1194L623 1173L621 1152L620 1132L620 1112L622 1093L624 1074L629 1056L634 1037L641 1019L649 1001L658 983L669 965L682 946L696 928L711 910L726 885L733 856L730 827L719 800L700 779L675 764L646 757L617 760L590 771ZM1220 614L1243 622L1267 629L1290 634L1314 638L1338 640L1362 641L1387 640L1411 638L1435 635L1459 630L1483 623L1508 615L1532 606L1555 596L1579 584L1603 571L1619 558L1630 541L1635 521L1633 501L1626 482L1613 466L1596 455L1576 450L1556 452L1537 459L1518 470L1500 479L1482 487L1464 495L1446 501L1429 506L1412 509L1395 512L1378 514L1362 515L1346 515L1329 513L1313 511L1297 508L1280 503L1264 498L1245 494L1225 496L1208 504L1193 517L1184 534L1180 553L1182 573L1190 590L1203 605ZM1726 522L1744 525L1761 529L1777 534L1793 540L1808 547L1822 555L1836 564L1849 574L1862 585L1875 597L1886 610L1898 625L1909 641L1919 658L1929 676L1938 696L1945 708L1955 716L1968 722L1981 723L1994 720L2006 713L2014 703L2020 690L2021 677L2018 664L2008 640L1997 617L1986 595L1973 574L1959 554L1945 535L1929 518L1912 501L1894 486L1876 472L1856 460L1835 449L1814 439L1791 430L1768 423L1744 418L1728 418L1712 422L1698 432L1688 445L1683 461L1683 477L1687 493L1697 507L1710 517ZM1668 767L1640 786L1614 806L1590 828L1568 851L1549 877L1533 904L1521 932L1511 962L1505 993L1503 1023L1504 1054L1508 1085L1515 1116L1524 1147L1536 1177L1550 1207L1564 1227L1583 1242L1605 1251L1629 1251L1652 1245L1672 1231L1687 1212L1696 1190L1696 1166L1690 1143L1681 1120L1675 1099L1671 1080L1669 1063L1669 1047L1670 1034L1673 1021L1676 1010L1681 1000L1687 991L1694 981L1704 972L1715 962L1728 952L1743 943L1762 933L1785 914L1801 890L1809 861L1808 831L1798 803L1779 780L1755 764L1726 756L1696 757ZM1732 929L1751 955L1770 980L1790 1005L1811 1029L1833 1052L1855 1075L1877 1097L1900 1119L1924 1139L1949 1160L1974 1179L1999 1198L2026 1216L2052 1234L2080 1251L2108 1267L2125 1275L2145 1276L2163 1272L2180 1262L2192 1247L2200 1230L2201 1210L2197 1192L2187 1175L2172 1163L2148 1146L2125 1129L2103 1111L2081 1093L2059 1075L2039 1056L2019 1036L2000 1016L1981 996L1963 975L1946 954L1929 932L1913 910L1897 888L1882 864L1868 841L1851 822L1829 809L1804 804L1779 807L1756 817L1737 834L1724 856L1719 881L1722 906Z"/><path d="M1035 305L1212 590" fill="none" stroke="#f4f7ff" stroke-width="78" stroke-linecap="round"/><path d="M1035 305L1212 590" fill="none" stroke="url(#bat)" stroke-width="64" stroke-linecap="round"/></g>
</g>
<g id="hammers">
<path transform="translate(3110,1260.0) scale(0.16562)" d="M190 1142 L895 455 C870 395 800 320 700 297 C660 292 625 290 605 265 C585 235 600 200 640 180 C720 130 800 108 870 108 C1000 108 1110 180 1210 280 C1260 330 1300 360 1308 410 C1312 445 1295 470 1320 500 C1345 525 1385 525 1410 495 C1425 478 1440 478 1455 492 L1545 585 C1565 608 1565 635 1545 655 L1310 888 C1285 912 1255 912 1232 888 L1135 788 C1120 770 1122 752 1140 735 C1170 705 1170 675 1150 655 C1130 635 1105 638 1085 655 L375 1335 C350 1358 320 1358 297 1335 L187 1218 C160 1190 165 1165 190 1142 Z" fill="#1fbb79"/>
<path transform="translate(3110,1462.3) scale(0.16562)" d="M190 1142 L895 455 C870 395 800 320 700 297 C660 292 625 290 605 265 C585 235 600 200 640 180 C720 130 800 108 870 108 C1000 108 1110 180 1210 280 C1260 330 1300 360 1308 410 C1312 445 1295 470 1320 500 C1345 525 1385 525 1410 495 C1425 478 1440 478 1455 492 L1545 585 C1565 608 1565 635 1545 655 L1310 888 C1285 912 1255 912 1232 888 L1135 788 C1120 770 1122 752 1140 735 C1170 705 1170 675 1150 655 C1130 635 1105 638 1085 655 L375 1335 C350 1358 320 1358 297 1335 L187 1218 C160 1190 165 1165 190 1142 Z" fill="#55e8aa"/>
<path transform="translate(3110,1655.6) scale(0.16562)" d="M190 1142 L895 455 C870 395 800 320 700 297 C660 292 625 290 605 265 C585 235 600 200 640 180 C720 130 800 108 870 108 C1000 108 1110 180 1210 280 C1260 330 1300 360 1308 410 C1312 445 1295 470 1320 500 C1345 525 1385 525 1410 495 C1425 478 1440 478 1455 492 L1545 585 C1565 608 1565 635 1545 655 L1310 888 C1285 912 1255 912 1232 888 L1135 788 C1120 770 1122 752 1140 735 C1170 705 1170 675 1150 655 C1130 635 1105 638 1085 655 L375 1335 C350 1358 320 1358 297 1335 L187 1218 C160 1190 165 1165 190 1142 Z" fill="#8efbd0"/>
</g>
<g id="robot" transform="translate(1000,1700) scale(0.20186)" stroke-linejoin="round" stroke-linecap="round">
<path d="M127 290 L166 290 L200 400 L200 535 L150 515 Q127 505 127 480 Z" fill="#7a7a7a" stroke="#0a0a0a" stroke-width="16"/>
<path d="M639 290 L600 290 L566 400 L566 535 L616 515 Q639 505 639 480 Z" fill="#7a7a7a" stroke="#0a0a0a" stroke-width="16"/>
<circle cx="145" cy="269" r="32" fill="#6e6e6e" stroke="#0a0a0a" stroke-width="16"/>
<circle cx="621" cy="269" r="32" fill="#6e6e6e" stroke="#0a0a0a" stroke-width="16"/>
<path d="M255 303 L511 303 C565 303 591 345 591 405 L591 570 C591 690 500 782 382 782 C264 782 173 690 173 570 L173 405 C173 345 200 303 255 303 Z" fill="#cbcbcb"/>
<clipPath id="rh"><path d="M255 303 L511 303 C565 303 591 345 591 405 L591 570 C591 690 500 782 382 782 C264 782 173 690 173 570 L173 405 C173 345 200 303 255 303 Z"/></clipPath>
<g clip-path="url(#rh)">
<path d="M160 568 L271 632 L271 800 L150 800 Z" fill="#858585"/>
<path d="M604 568 L495 632 L495 800 L614 800 Z" fill="#858585"/>
<rect x="293" y="290" width="178" height="165" fill="#ffffff"/>
</g>
<path d="M255 303 L511 303 C565 303 591 345 591 405 L591 570 C591 690 500 782 382 782 C264 782 173 690 173 570 L173 405 C173 345 200 303 255 303 Z" fill="none" stroke="#0a0a0a" stroke-width="17"/>
<path d="M348 318 H421 V412 Q421 430 403 430 H366 Q348 430 348 412 Z" fill="#e8401f"/>
<rect x="219" y="454" width="326" height="118" rx="24" fill="#050505"/>
<ellipse cx="279" cy="513" rx="27" ry="43" fill="#2bc4f3"/>
<ellipse cx="484.5" cy="513" rx="27" ry="43" fill="#2bc4f3"/>
<rect x="317" y="635" width="130" height="30" fill="#050505"/>
<path d="M400 190 L296 288 L378 299 L350 373 L468 263 L389 258 Z" fill="#f8c433" stroke="#0a0a0a" stroke-width="14"/>
</g>
<g id="blacklines">
<line x1="3121.0" y1="1267.6" x2="2577.5" y2="1267.8" stroke="#0d1326" stroke-width="6.0" stroke-linecap="round"/><polygon points="2552.0,1267.8 2581.5,1250.3 2581.5,1285.3" fill="#0d1326"/>
<line x1="3121.0" y1="1267.6" x2="2495.9" y2="1560.6" stroke="#0d1326" stroke-width="6.0" stroke-linecap="round"/><polygon points="2472.8,1571.4 2492.1,1543.0 2506.9,1574.7" fill="#0d1326"/>
<line x1="3121.0" y1="1267.6" x2="2570.3" y2="1800.4" stroke="#0d1326" stroke-width="6.0" stroke-linecap="round"/><polygon points="2552.0,1818.1 2561.0,1785.0 2585.4,1810.2" fill="#0d1326"/>
<line x1="3121.0" y1="1571.4" x2="2574.5" y2="1279.8" stroke="#0d1326" stroke-width="6.0" stroke-linecap="round"/><polygon points="2552.0,1267.8 2586.3,1266.2 2569.8,1297.1" fill="#0d1326"/>
<line x1="3121.0" y1="1571.4" x2="2498.3" y2="1571.4" stroke="#0d1326" stroke-width="6.0" stroke-linecap="round"/><polygon points="2472.8,1571.4 2502.3,1553.9 2502.3,1588.9" fill="#0d1326"/>
<line x1="3121.0" y1="1571.4" x2="2575.4" y2="1808.0" stroke="#0d1326" stroke-width="6.0" stroke-linecap="round"/><polygon points="2552.0,1818.1 2572.1,1790.3 2586.0,1822.4" fill="#0d1326"/>
<line x1="3121.0" y1="1818.3" x2="2570.3" y2="1285.5" stroke="#0d1326" stroke-width="6.0" stroke-linecap="round"/><polygon points="2552.0,1267.8 2585.4,1275.7 2561.0,1300.9" fill="#0d1326"/>
<line x1="3121.0" y1="1818.3" x2="2496.6" y2="1580.5" stroke="#0d1326" stroke-width="6.0" stroke-linecap="round"/><polygon points="2472.8,1571.4 2506.6,1565.5 2494.1,1598.3" fill="#0d1326"/>
<line x1="3121.0" y1="1818.3" x2="2577.5" y2="1818.1" stroke="#0d1326" stroke-width="6.0" stroke-linecap="round"/><polygon points="2552.0,1818.1 2581.5,1800.6 2581.5,1835.6" fill="#0d1326"/>
<line x1="2000.4" y1="1316.0" x2="1529.9" y2="1822.8" stroke="#0d1326" stroke-width="6.0" stroke-linecap="round"/><polygon points="1512.5,1841.5 1519.7,1808.0 1545.4,1831.8" fill="#0d1326"/>
<line x1="1920.4" y1="1572.3" x2="1533.8" y2="1827.5" stroke="#0d1326" stroke-width="6.0" stroke-linecap="round"/><polygon points="1512.5,1841.5 1527.5,1810.6 1546.8,1839.9" fill="#0d1326"/>
<line x1="2000.4" y1="1840.0" x2="1538.0" y2="1841.4" stroke="#0d1326" stroke-width="6.0" stroke-linecap="round"/><polygon points="1512.5,1841.5 1541.9,1823.9 1542.1,1858.9" fill="#0d1326"/>
</g>
</svg></body></html>
